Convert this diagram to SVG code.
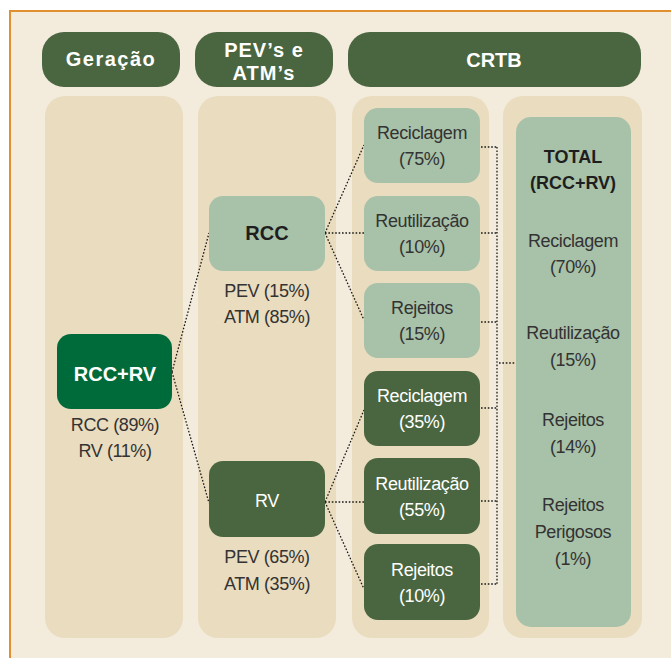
<svg xmlns="http://www.w3.org/2000/svg" width="671" height="658" viewBox="0 0 671 658">
<defs>
<style>
text{font-family:"Liberation Sans",Arial,sans-serif;text-anchor:middle}
.hdr{fill:#4a6640}
.hdrt{fill:#fff;font-weight:bold;font-size:20px}
.panel{fill:#eadcbf}
.light{fill:#a8c1a9}
.dark{fill:#4a6640}
.tl{fill:#333;font-size:18px;letter-spacing:-0.4px}
.tw{fill:#fff;font-size:18px;letter-spacing:-0.4px}
.tb{fill:#1e1e1e;font-weight:bold}
.conn{fill:none;stroke:#1a1a1a;stroke-width:1.3;stroke-dasharray:1.6 1.8}
</style>
</defs>
<rect x="0" y="0" width="671" height="658" fill="#fff"/>
<rect x="10" y="11" width="661" height="647" fill="#f3ebdc"/>
<path d="M10 658 V11 H671" fill="none" stroke="#e0902e" stroke-width="2"/>

<g id="headers">
<g id="h-geracao"><rect class="hdr" x="42" y="32" width="138" height="55" rx="22"/><text class="hdrt" x="111" y="66" letter-spacing="1.5">Geração</text></g>
<g id="h-pev"><rect class="hdr" x="195" y="32" width="138" height="55" rx="22"/><text class="hdrt" x="264" y="57" letter-spacing="1">PEV’s e</text><text class="hdrt" x="264" y="80" letter-spacing="1">ATM’s</text></g>
<g id="h-crtb"><rect class="hdr" x="348" y="32" width="293" height="55" rx="22"/><text class="hdrt" x="494" y="67">CRTB</text></g>
</g>

<g id="panels">
<rect class="panel" x="45" y="96" width="138" height="542" rx="20"/>
<rect class="panel" x="198" y="96" width="138" height="542" rx="20"/>
<rect class="panel" x="352" y="96" width="137" height="542" rx="20"/>
<rect class="panel" x="503" y="96" width="139" height="542" rx="20"/>
</g>

<g id="connectors">
<path class="conn" d="M172 372 L209 233 M172 372 L209 503"/>
<path class="conn" d="M325 233 L364 145 M325 233 H364 M325 233 L364 320"/>
<path class="conn" d="M325 502 L364 410 M325 502 H364 M325 502 L364 589"/>
<path class="conn" d="M481 147 H497 M481 233 H497 M481 322 H497 M481 408 H497 M481 501 H497 M481 584 H497 M497 147 V584 M499 363 H515"/>
</g>

<g id="n-rccrv"><rect x="57" y="334" width="115" height="75" rx="14" fill="#006b3a"/><text class="hdrt" x="115" y="381">RCC+RV</text><text class="tl" x="115" y="431">RCC (89%)</text><text class="tl" x="115" y="457">RV (11%)</text></g>

<g id="n-rcc"><rect class="light" x="209" y="196" width="116" height="75" rx="14"/><text class="tb" x="267" y="240" font-size="20">RCC</text><text class="tl" x="267" y="297">PEV (15%)</text><text class="tl" x="267" y="323">ATM (85%)</text></g>

<g id="n-rv"><rect class="dark" x="209" y="461" width="116" height="76" rx="14"/><text class="tw" x="267" y="507" font-size="19">RV</text><text class="tl" x="267" y="563">PEV (65%)</text><text class="tl" x="267" y="590">ATM (35%)</text></g>

<g id="n-rcc-recic"><rect class="light" x="364" y="108" width="116" height="75" rx="14"/><text class="tl" x="422" y="139">Reciclagem</text><text class="tl" x="422" y="165">(75%)</text></g>
<g id="n-rcc-reut"><rect class="light" x="364" y="196" width="116" height="75" rx="14"/><text class="tl" x="422" y="227">Reutilização</text><text class="tl" x="422" y="253">(10%)</text></g>
<g id="n-rcc-rej"><rect class="light" x="364" y="283" width="116" height="75" rx="14"/><text class="tl" x="422" y="314">Rejeitos</text><text class="tl" x="422" y="340">(15%)</text></g>
<g id="n-rv-recic"><rect class="dark" x="364" y="371" width="116" height="75" rx="14"/><text class="tw" x="422" y="402">Reciclagem</text><text class="tw" x="422" y="428">(35%)</text></g>
<g id="n-rv-reut"><rect class="dark" x="364" y="458" width="116" height="76" rx="14"/><text class="tw" x="422" y="490">Reutilização</text><text class="tw" x="422" y="516">(55%)</text></g>
<g id="n-rv-rej"><rect class="dark" x="364" y="544" width="116" height="76" rx="14"/><text class="tw" x="422" y="576">Rejeitos</text><text class="tw" x="422" y="602">(10%)</text></g>

<g id="n-total"><rect class="light" x="516" y="117" width="115" height="510" rx="15"/>
<text class="tb" x="573" y="163" font-size="18">TOTAL</text><text class="tb" x="573" y="189" font-size="18">(RCC+RV)</text>
<text class="tl" x="573" y="247">Reciclagem</text><text class="tl" x="573" y="273">(70%)</text>
<text class="tl" x="573" y="339">Reutilização</text><text class="tl" x="573" y="366">(15%)</text>
<text class="tl" x="573" y="426">Rejeitos</text><text class="tl" x="573" y="453">(14%)</text>
<text class="tl" x="573" y="511">Rejeitos</text><text class="tl" x="573" y="538">Perigosos</text><text class="tl" x="573" y="565">(1%)</text>
</g>
</svg>
